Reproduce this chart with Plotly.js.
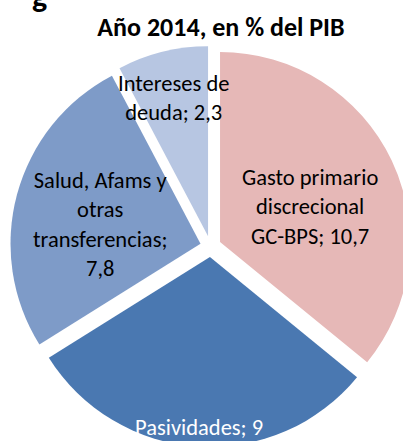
<!DOCTYPE html>
<html>
<head>
<meta charset="utf-8">
<script src="https://cdn.plot.ly/plotly-3.0.1.min.js"></script>
<style>
  html, body { margin: 0; padding: 0; overflow: hidden; background: #fff; }
</style>
</head>
<body>
<div id="chart"></div>
<script>
// datos (% del PIB, año 2014)
const labels = [
  "Gasto primario discrecional GC-BPS",
  "Pasividades",
  "Salud, Afams y otras transferencias",
  "Intereses de deuda",
];
const values = [10.7, 9, 7.8, 2.3];
const textLabels = [
  "Gasto primario<br>discrecional<br>GC-BPS; 10,7",
  "Pasividades; 9",
  "Salud, Afams y<br>otras<br>transferencias;<br>7,8",
  "Intereses de<br>deuda; 2,3",
];
const colors = ["#E6B8B7", "#4A78B1", "#7E9BC8", "#B7C6E2"];

// geometria (px)
const W = 421, H = 450;
const cx = 210.6, cy = 246.5;
const R = 190;
const pull = 0.055;
const half = R * (1 + pull);
const labelR = [0.525, 0.9, 0.546, 0.75]; // distancia de la etiqueta, fraccion del radio
const font = "Carlito, Lato, sans-serif";

// posiciones de las etiquetas a partir de los angulos de cada porcion
const total = values.reduce((a, b) => a + b, 0);
let acc = 0;
const annotations = values.map((v, i) => {
  const mid = ((acc + v / 2) / total) * 2 * Math.PI;
  acc += v;
  const d = pull * R + labelR[i] * R;
  const px = cx + d * Math.sin(mid);
  const py = cy - d * Math.cos(mid);
  const nLines = textLabels[i].split("<br>").length;
  return {
    text: textLabels[i],
    x: px / W,
    y: 1 - py / H,
    xref: "paper",
    yref: "paper",
    showarrow: false,
    xanchor: "center",
    yanchor: "middle",
    yshift: nLines > 2 ? -8 : 0, // el bloque de varias lineas queda alto
    font: { family: font, size: 22.5, color: i === 1 ? "#ffffff" : "#000000" },
  };
});

// resto del titulo de la figura (cortado arriba)
annotations.push({
  text: "<b>g</b>",
  x: 39 / W,
  y: 1,
  xref: "paper",
  yref: "paper",
  showarrow: false,
  xanchor: "center",
  yanchor: "top",
  yshift: 25,
  font: { family: font, size: 32, color: "#000000" },
});

const trace = {
  type: "pie",
  labels: labels,
  values: values,
  sort: false,
  direction: "clockwise",
  rotation: 0,
  pull: values.map(() => pull),
  textinfo: "none",
  hoverinfo: "label+value",
  marker: { colors: colors, line: { width: 0 } },
  domain: {
    x: [(cx - half) / W, (cx + half) / W],
    y: [1 - (cy + half) / H, 1 - (cy - half) / H],
  },
};

const layout = {
  width: W,
  height: H,
  margin: { t: 0, b: 0, l: 0, r: 0 },
  showlegend: false,
  paper_bgcolor: "#FFFFFF",
  title: {
    text: "<b>Año 2014, en % del PIB</b>",
    font: { family: font, size: 26, color: "#000000" },
    x: 221 / W,
    xanchor: "center",
    y: 1 - 27 / H,
    yanchor: "middle",
  },
  annotations: annotations,
};

Plotly.newPlot("chart", [trace], layout, { displayModeBar: false, staticPlot: true });
</script>
</body>
</html>
